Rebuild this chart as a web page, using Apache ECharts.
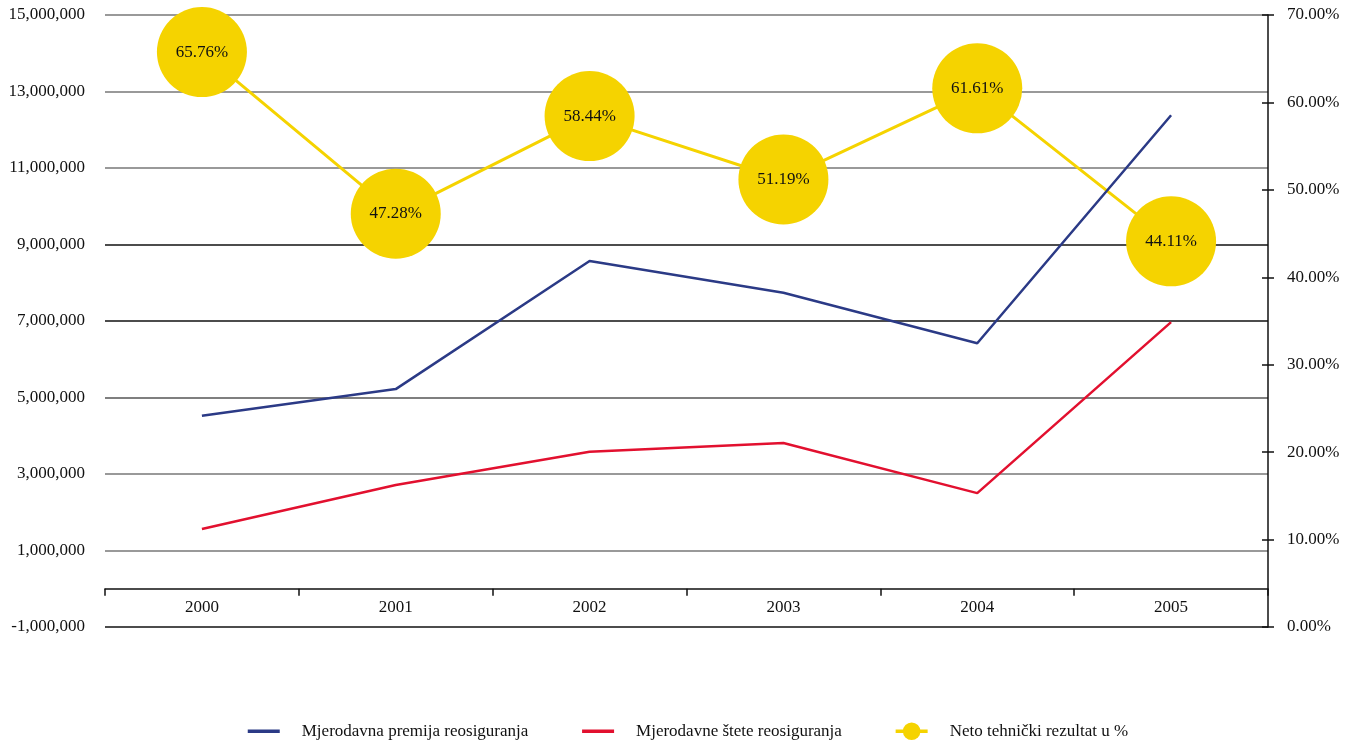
<!DOCTYPE html>
<html>
<head>
<meta charset="utf-8">
<script src="https://cdn.jsdelivr.net/npm/echarts@6/dist/echarts.min.js"></script>
<style>
  html, body { margin: 0; padding: 0; background: #fff; }
  #chart { width: 1357px; height: 747px; }
</style>
</head>
<body>
<div id="chart"></div>
<script>
// podaci
var years = ['2000', '2001', '2002', '2003', '2004', '2005'];
var premija = [4520000, 5220000, 8570000, 7740000, 6420000, 12380000];
var stete = [1560000, 2710000, 3580000, 3810000, 2500000, 6970000];
var rezultat = [65.76, 47.28, 58.44, 51.19, 61.61, 44.11];
var seriesNames = ['Mjerodavna premija reosiguranja', 'Mjerodavne štete reosiguranja', 'Neto tehnički rezultat u %'];

var font = '"Liberation Serif", "DejaVu Serif", serif';
var yellow = '#F5D300';

var myChart = echarts.init(document.getElementById('chart'));
var option = {
    animation: false,
    textStyle: { fontFamily: font },
    grid: { left: 105, right: 89, top: 15, bottom: 120 },
    legend: {
        bottom: 2,
        left: 241,
        itemWidth: 32,
        itemHeight: 22,
        itemGap: 52,
        textStyle: { fontFamily: font, fontSize: 17, color: '#111', padding: [0, 0, 0, 17] },
        data: [
            { name: seriesNames[0], itemStyle: { opacity: 0 }, lineStyle: { width: 3.5 } },
            { name: seriesNames[1], itemStyle: { opacity: 0 }, lineStyle: { width: 3.5 } },
            { name: seriesNames[2], lineStyle: { width: 3.5 } }
        ]
    },
    xAxis: {
        type: 'category',
        data: years,
        boundaryGap: true,
        axisLine: { onZero: true, onZeroAxisIndex: 0, lineStyle: { color: '#111', width: 1.5 } },
        axisTick: { show: true, inside: false, length: 7, lineStyle: { color: '#111', width: 1.5 } },
        axisLabel: { color: '#111', fontSize: 17, fontFamily: font, margin: -28 }
    },
    yAxis: [
        {
            type: 'value',
            min: -1000000,
            max: 15000000,
            interval: 2000000,
            axisLine: { show: false },
            axisTick: { show: false },
            axisLabel: {
                color: '#111', fontSize: 17, fontFamily: font, margin: 20,
                formatter: function (v) { return v.toLocaleString('en-US'); }
            },
            splitLine: {
                lineStyle: {
                    width: 1.5,
                    color: ['#111', '#777', '#777', '#555', '#111', '#111', '#777', '#777', '#777']
                }
            }
        },
        {
            type: 'value',
            position: 'right',
            min: 0,
            max: 70,
            interval: 10,
            axisLine: { show: true, lineStyle: { color: '#111', width: 1.5 } },
            axisTick: { show: true, length: 6, lineStyle: { color: '#111', width: 1.5 } },
            axisLabel: {
                color: '#111', fontSize: 17, fontFamily: font, margin: 19,
                formatter: function (v) { return v.toFixed(2) + '%'; }
            },
            splitLine: { show: false }
        },
        {
            // unutarnji dio crtica na desnoj osi
            type: 'value',
            position: 'right',
            min: 0,
            max: 70,
            interval: 10,
            axisLine: { show: false },
            axisTick: { show: true, inside: true, length: 6, lineStyle: { color: '#111', width: 1.5 } },
            axisLabel: { show: false },
            splitLine: { show: false }
        }
    ],
    series: [
        {
            name: seriesNames[0],
            type: 'line',
            yAxisIndex: 0,
            data: premija,
            symbol: 'none',
            lineStyle: { color: '#2B3A86', width: 2.5 },
            itemStyle: { color: '#2B3A86' },
            z: 3
        },
        {
            name: seriesNames[1],
            type: 'line',
            yAxisIndex: 0,
            data: stete,
            symbol: 'none',
            lineStyle: { color: '#E2102F', width: 2.5 },
            itemStyle: { color: '#E2102F' },
            z: 3
        },
        {
            name: seriesNames[2],
            type: 'line',
            yAxisIndex: 1,
            data: rezultat,
            symbol: 'circle',
            symbolSize: 90,
            lineStyle: { color: yellow, width: 3 },
            itemStyle: { color: yellow },
            label: {
                show: true,
                position: 'inside',
                color: '#111',
                fontSize: 17,
                fontFamily: font,
                formatter: function (p) { return p.value.toFixed(2) + '%'; }
            },
            z: 2
        }
    ]
};
myChart.setOption(option);
</script>
</body>
</html>
